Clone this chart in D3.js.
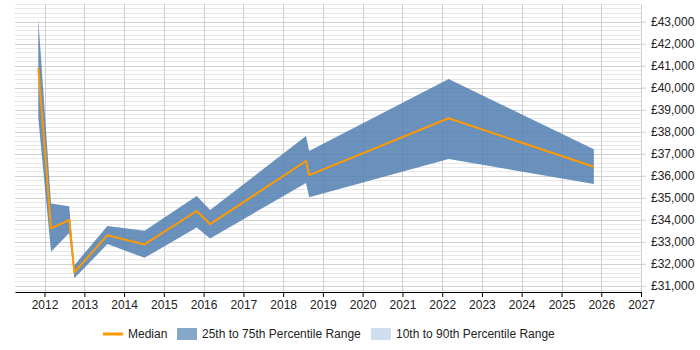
<!DOCTYPE html>
<html>
<head>
<meta charset="utf-8">
<script src="https://cdn.jsdelivr.net/npm/d3@7"></script>
<style>
  body { margin: 0; background: #fff; }
  svg { font-family: "Liberation Sans", Arial, sans-serif; }
</style>
</head>
<body>
<svg id="chart" width="700" height="350"></svg>
<script>
// ---- data ----
const dates = ["2011-11-05", "2012-03-01", "2012-08-15", "2012-10-01", "2013-08-01", "2014-07-08",
               "2015-10-30", "2016-03-01", "2018-07-30", "2018-08-28", "2022-03-01", "2025-10-25"];
const median = [40900, 33610, 33990, 31610, 33300, 32880, 34400, 33800, 36670, 36030, 38610, 36410];
const p25    = [38620, 32545, 33395, 31340, 32895, 32270, 33655, 33155, 35670, 35020, 36760, 35620];
const p75    = [43120, 34745, 34620, 31940, 33715, 33500, 35080, 34440, 37805, 37120, 40395, 37200];
const yTicks = [31000, 32000, 33000, 34000, 35000, 36000, 37000, 38000, 39000, 40000, 41000, 42000, 43000];
const xYears = [2012, 2013, 2014, 2015, 2016, 2017, 2018, 2019, 2020, 2021, 2022, 2023, 2024, 2025, 2026, 2027];
const legendLabels = ["Median", "25th to 75th Percentile Range", "10th to 90th Percentile Range"];

const parse = d3.timeParse("%Y-%m-%d");
const rows = dates.map((d, i) => ({ date: parse(d), med: median[i], lo: p25[i], hi: p75[i] }));

const svg = d3.select("#chart");
const pLeft = 15, pRight = 641, pTop = 4, pBottom = 292;

const x = d3.scaleTime()
  .domain([new Date(2011, 3, 5), new Date(2027, 0, 1)])
  .range([pLeft, pRight]);
const y = d3.scaleLinear().domain([30720, 43800]).range([pBottom, pTop]);

// minor grid
const minor = d3.range(30800, 43801, 200).filter(v => v % 1000 !== 0);
svg.append("g").selectAll("line").data(minor).join("line")
  .attr("x1", pLeft).attr("x2", pRight)
  .attr("y1", d => Math.round(y(d)) + 0.5).attr("y2", d => Math.round(y(d)) + 0.5)
  .attr("stroke", "#e8e8e8").attr("stroke-width", 1);

// major horizontal grid
svg.append("g").selectAll("line").data(yTicks).join("line")
  .attr("x1", pLeft).attr("x2", pRight)
  .attr("y1", d => Math.round(y(d)) + 0.5).attr("y2", d => Math.round(y(d)) + 0.5)
  .attr("stroke", "#cfcfcf").attr("stroke-width", 1);

// vertical grid
const yearDates = xYears.map(yr => new Date(yr, 0, 1));
svg.append("g").selectAll("line").data(yearDates).join("line")
  .attr("x1", d => Math.round(x(d)) + 0.5).attr("x2", d => Math.round(x(d)) + 0.5)
  .attr("y1", pTop).attr("y2", pBottom)
  .attr("stroke", "#cfcfcf").attr("stroke-width", 1);

// band
const area = d3.area().x(d => x(d.date)).y0(d => y(d.lo)).y1(d => y(d.hi));
svg.append("path").datum(rows)
  .attr("d", area)
  .attr("fill", "rgb(81,127,176)")
  .attr("fill-opacity", 0.85);

// median line
const line = d3.line().x(d => x(d.date)).y(d => y(d.med));
svg.append("path").datum(rows)
  .attr("d", line)
  .attr("fill", "none")
  .attr("stroke", "#ff9900")
  .attr("stroke-width", 2)
  .attr("stroke-linejoin", "round");

// x axis
const xAxis = d3.axisBottom(x).tickValues(yearDates).tickFormat(d3.timeFormat("%Y")).tickSize(5).tickSizeOuter(0);
const gx = svg.append("g").attr("transform", `translate(0,${pBottom})`).call(xAxis);
gx.select(".domain").attr("stroke", "#000");
gx.selectAll(".tick line").attr("stroke", "#000");
gx.selectAll("text").attr("font-size", 12).attr("fill", "#222").attr("font-family", "Liberation Sans, Arial, sans-serif");

// y axis on right
const yAxis = d3.axisRight(y).tickValues(yTicks).tickFormat(d => "£" + d3.format(",")(d)).tickSize(5).tickPadding(5);
const gy = svg.append("g").attr("transform", `translate(${pRight},0)`).call(yAxis);
gy.select(".domain").remove();
gy.selectAll(".tick line").attr("stroke", "#cfcfcf");
gy.selectAll("text").attr("font-size", 12).attr("fill", "#222").attr("font-family", "Liberation Sans, Arial, sans-serif");

// legend
const lg = svg.append("g").attr("font-size", 12).attr("fill", "#222");
const ly = 334;
lg.append("line").attr("x1", 103).attr("x2", 123).attr("y1", ly).attr("y2", ly)
  .attr("stroke", "#ff9900").attr("stroke-width", 3);
lg.append("text").attr("x", 128).attr("y", ly + 4).text(legendLabels[0]);
lg.append("rect").attr("x", 177).attr("y", ly - 6).attr("width", 20).attr("height", 12).attr("fill", "#87a7c9");
lg.append("text").attr("x", 202).attr("y", ly + 4).text(legendLabels[1]);
lg.append("rect").attr("x", 371).attr("y", ly - 6).attr("width", 20).attr("height", 12).attr("fill", "#cfdeee");
lg.append("text").attr("x", 396).attr("y", ly + 4).text(legendLabels[2]);
</script>
</body>
</html>
